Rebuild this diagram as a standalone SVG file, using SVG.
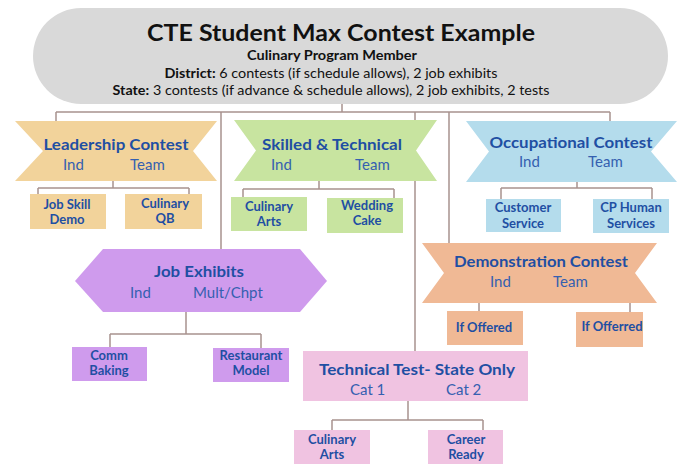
<svg xmlns="http://www.w3.org/2000/svg" width="678" height="464" viewBox="0 0 678 464">
<style>
.t{font-family:Lato,"Open Sans","Liberation Sans",sans-serif;}
.h{font-weight:700;fill:#1f4fa3;font-size:15.5px;text-anchor:middle;}
.s{font-weight:400;fill:#3560b0;font-size:15px;}
.c{font-weight:700;fill:#1f4fa3;font-size:13px;text-anchor:middle;}
.k{fill:#111;text-anchor:middle;}
.ln{stroke:#a8928e;stroke-width:1.5;fill:none;}
</style>
<rect width="678" height="464" fill="#ffffff"/>
<g id="header">
<rect x="33" y="8" width="635" height="96" rx="48" fill="#d9d9d9"/>
<text class="t k" x="341" y="41" font-size="22" font-weight="700" textLength="388" lengthAdjust="spacingAndGlyphs">CTE Student Max Contest Example</text>
<text class="t k" x="332" y="60" font-size="13" font-weight="700" textLength="170" lengthAdjust="spacingAndGlyphs">Culinary Program Member</text>
<text class="t k" x="331" y="78" font-size="13" textLength="333" lengthAdjust="spacingAndGlyphs"><tspan font-weight="700">District:</tspan> 6 contests (if schedule allows), 2 job exhibits</text>
<text class="t k" x="331" y="95" font-size="13" textLength="437" lengthAdjust="spacingAndGlyphs"><tspan font-weight="700">State:</tspan> 3 contests (if advance &amp; schedule allows), 2 job exhibits, 2 tests</text>
</g>
<g id="connectors" class="ln">
<path d="M342 104V112M56 112H610M56 112V121M221 112V249M415 112V351M449 112V243M610 112V121"/>
<path d="M113 181V188M38 188H189M38 188V194M189 188V194"/>
<path d="M319 181V189M243 189H394M243 189V197M394 189V198"/>
<path d="M577 182V188M501 188H652M501 188V199M652 188V199"/>
<path d="M186 312V334M110 334H261M110 334V347M261 334V348"/>
<path d="M479 303V311M630 303V312"/>
<path d="M408 401V420M332 420H483M332 420V430M483 420V430"/>
</g>
<g id="leadership">
<polygon points="15,121 217,121 193,151 217,181 15,181 43,151" fill="#f2d39b"/>
<text class="t h" x="116" y="150" textLength="145" lengthAdjust="spacingAndGlyphs">Leadership Contest</text>
<text class="t s" x="63" y="170">Ind</text>
<text class="t s" x="130" y="170">Team</text>
</g>
<g id="job-skill-demo">
<rect x="30" y="194" width="76" height="35" fill="#f2d39b"/>
<text class="t c" x="67" y="209">Job Skill</text>
<text class="t c" x="67" y="224">Demo</text>
</g>
<g id="culinary-qb">
<rect x="125" y="194" width="77" height="35" fill="#f2d39b"/>
<text class="t c" x="165" y="208">Culinary</text>
<text class="t c" x="165" y="223">QB</text>
</g>
<g id="skilled-technical">
<polygon points="234,120 437,120 416,150.5 437,181 234,181 256,150.5" fill="#c8e4a0"/>
<text class="t h" x="332" y="150" textLength="140" lengthAdjust="spacingAndGlyphs">Skilled &amp; Technical</text>
<text class="t s" x="271" y="170">Ind</text>
<text class="t s" x="355" y="170">Team</text>
</g>
<g id="culinary-arts-1">
<rect x="231" y="197" width="76" height="34" fill="#c8e4a0"/>
<text class="t c" x="269" y="211">Culinary</text>
<text class="t c" x="269" y="226">Arts</text>
</g>
<g id="wedding-cake">
<rect x="327" y="198" width="76" height="35" fill="#c8e4a0"/>
<text class="t c" x="367" y="210">Wedding</text>
<text class="t c" x="367" y="225">Cake</text>
</g>
<g id="occupational">
<polygon points="466,121 677,121 651,151.5 677,182 466,182 489,151.5" fill="#b4dcec"/>
<text class="t h" x="571" y="148" textLength="163" lengthAdjust="spacingAndGlyphs">Occupational Contest</text>
<text class="t s" x="519" y="167">Ind</text>
<text class="t s" x="588" y="167">Team</text>
</g>
<g id="customer-service">
<rect x="486" y="199" width="75" height="33" fill="#b4dcec"/>
<text class="t c" x="523" y="212">Customer</text>
<text class="t c" x="523" y="228">Service</text>
</g>
<g id="cp-human-services">
<rect x="593" y="199" width="76" height="34" fill="#b4dcec"/>
<text class="t c" x="631" y="212">CP Human</text>
<text class="t c" x="631" y="228">Services</text>
</g>
<g id="job-exhibits">
<polygon points="75,281 103,249 300,249 327,281 300,312 103,312" fill="#cf9bed"/>
<text class="t h" x="199" y="277" textLength="90" lengthAdjust="spacingAndGlyphs">Job Exhibits</text>
<text class="t s" x="130" y="298">Ind</text>
<text class="t s" x="193" y="298">Mult/Chpt</text>
</g>
<g id="comm-baking">
<rect x="72" y="347" width="75" height="34" fill="#cf9bed"/>
<text class="t c" x="109" y="360">Comm</text>
<text class="t c" x="109" y="375">Baking</text>
</g>
<g id="restaurant-model">
<rect x="213" y="348" width="76" height="34" fill="#cf9bed"/>
<text class="t c" x="251" y="360">Restaurant</text>
<text class="t c" x="251" y="375">Model</text>
</g>
<g id="demonstration">
<polygon points="422,243 657,243 635,273 657,303 422,303 444,273" fill="#f0b995"/>
<text class="t h" x="541" y="267" textLength="174" lengthAdjust="spacingAndGlyphs">Demonstration Contest</text>
<text class="t s" x="490" y="287">Ind</text>
<text class="t s" x="553" y="287">Team</text>
</g>
<g id="if-offered">
<rect x="447" y="311" width="76" height="34" fill="#f0b995"/>
<text class="t c" x="484" y="332">If Offered</text>
</g>
<g id="if-offerred">
<rect x="576" y="312" width="67" height="35" fill="#f0b995"/>
<text class="t c" x="612" y="331">If Offerred</text>
</g>
<g id="technical-test">
<rect x="303" y="351" width="225" height="50" fill="#f0c3e1"/>
<text class="t h" x="417" y="375" textLength="196" lengthAdjust="spacingAndGlyphs">Technical Test- State Only</text>
<text class="t s" x="350" y="395">Cat 1</text>
<text class="t s" x="446" y="395">Cat 2</text>
</g>
<g id="culinary-arts-2">
<rect x="294" y="430" width="76" height="40" fill="#f0c3e1"/>
<text class="t c" x="332" y="444">Culinary</text>
<text class="t c" x="332" y="459">Arts</text>
</g>
<g id="career-ready">
<rect x="428" y="430" width="75" height="40" fill="#f0c3e1"/>
<text class="t c" x="466" y="444">Career</text>
<text class="t c" x="466" y="459">Ready</text>
</g>
</svg>
